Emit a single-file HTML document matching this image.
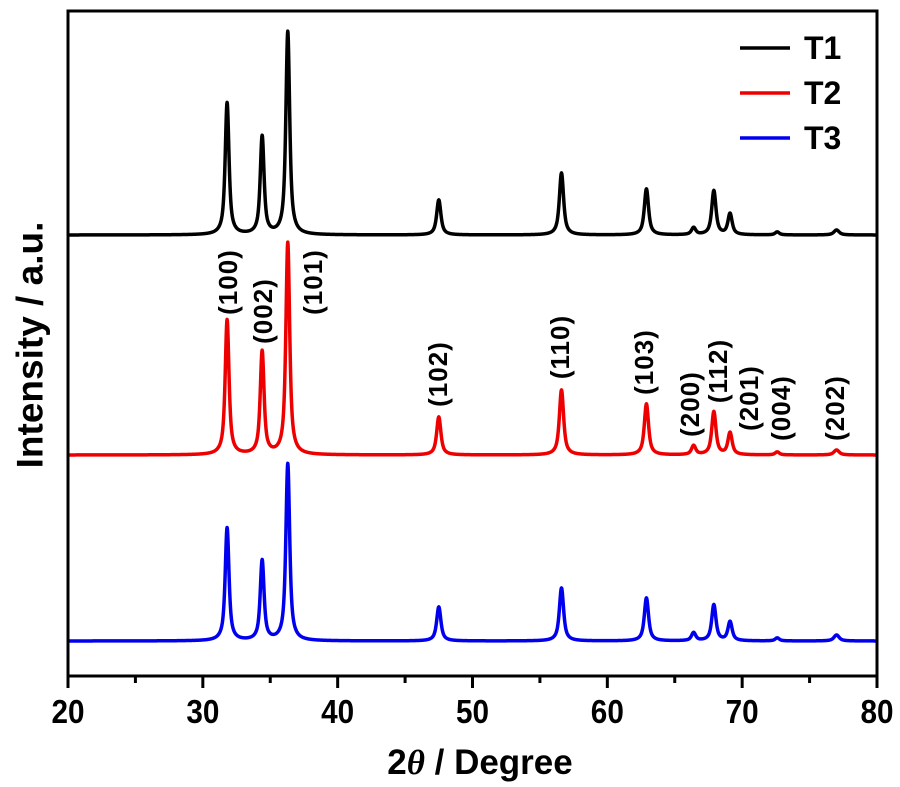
<!DOCTYPE html>
<html><head><meta charset="utf-8"><style>
html,body{margin:0;padding:0;background:#fff;}
svg{display:block;font-family:"Liberation Sans",Arial,sans-serif;font-weight:bold;}
</style></head><body>
<svg id="chart" width="900" height="787" viewBox="0 0 900 787">
<g id="plot"></g>
</svg>
<script>
const categories = ["T1","T2","T3"];
const peakPositions = [31.8,34.4,36.3,47.5,56.6,62.9,66.4,67.9,69.1,72.6,77.0];
const peakLabels = ["(100)","(002)","(101)","(102)","(110)","(103)","(200)","(112)","(201)","(004)","(202)"];
const t1Heights = [132,98,203,35,62,46,7,44,21,3,5];
const t2Heights = [135,103,212,38,65,51,9,43,22,3,5];
const t3Heights = [113,80,177,34,53,43,8,36,19,3,6];
const seriesOffsets = [441,221,35];
const seriesColors = ["#000000","#ee0000","#0000ee"];
const xTicks = [20,30,40,50,60,70,80];
const xMinorTicks = [25,35,45,55,65,75];

const X0=68,X1=877,Y0=676,Y1=11;
const xScale = v => X0 + (v-20)/(80-20)*(X1-X0);
const yScale = v => Y0 - v*(Y0-Y1)/665;
const NS="http://www.w3.org/2000/svg";
const svg=document.getElementById('chart');
const plot=document.getElementById('plot');
function mk(tag,attrs,parent){const e=document.createElementNS(NS,tag);for(const k in attrs)e.setAttribute(k,attrs[k]);(parent||svg).appendChild(e);return e;}

const allHeights=[t1Heights,t2Heights,t3Heights];
const widths=[0.18,0.18,0.18,0.2,0.2,0.2,0.2,0.2,0.2,0.2,0.25];
allHeights.forEach((hs,si)=>{
  let d="";
  for(let x=20;x<=80.0001;x+=0.02){
    let v=seriesOffsets[si];
    peakPositions.forEach((p,i)=>{const w=widths[i];const dx=(x-p)/w;v+=hs[i]*(0.75/(1+dx*dx)+0.25*Math.exp(-dx*dx));});
    d+=(d?"L":"M")+xScale(x).toFixed(2)+","+yScale(v).toFixed(2);
  }
  const path=mk('path',{d:d,fill:"none",stroke:seriesColors[si],"stroke-width":3.5,"stroke-linejoin":"round"},plot);
  
  
});

const frame=mk('rect',{x:X0,y:Y1,width:X1-X0,height:Y0-Y1,fill:"none",stroke:"#000","stroke-width":3});



xTicks.forEach(t=>{
  const l=mk('line',{x1:xScale(t),x2:xScale(t),y1:Y0,y2:Y0+12,stroke:"#000","stroke-width":3});
  
  
  const tx=mk('text',{x:xScale(t),y:Y0+47,"text-anchor":"middle","font-size":33,"transform":`translate(${xScale(t)} 0) scale(0.9 1) translate(${-xScale(t)} 0)`});
  tx.textContent=t;
  
  
});
xMinorTicks.forEach(t=>{
  const l=mk('line',{x1:xScale(t),x2:xScale(t),y1:Y0,y2:Y0+7,stroke:"#000","stroke-width":3});
  
  
});

const labelCx=[228,263,313,438,560,644,690,718,749,781,835];
const labelCy=[282,311,282,374,347,362,404,371,398,408,408];
peakLabels.forEach((lab,i)=>{
  const cx=labelCx[i], cy=labelCy[i];
  const tx=mk('text',{x:cx,y:cy,"font-size":26,"letter-spacing":1,transform:`rotate(-90 ${cx} ${cy})`,"text-anchor":"middle","dominant-baseline":"central"});
  tx.textContent=lab;
  
  
});

const ys=[48,93,138];
categories.forEach((c,i)=>{
  const l=mk('line',{x1:740,x2:790,y1:ys[i],y2:ys[i],stroke:seriesColors[i],"stroke-width":3.5});
  
  
  const t=mk('text',{x:804,y:ys[i]+11,"font-size":32});
  t.textContent=c;
  
  
});
const yt=mk('text',{x:30,y:345,"font-size":37,"text-anchor":"middle",transform:"rotate(-90 30 345) translate(30 345) scale(1 1) translate(-30 -345)","dominant-baseline":"central"});
yt.textContent="Intensity / a.u.";


const xt=mk('text',{x:480,y:774,"font-size":35,"text-anchor":"middle"});
xt.innerHTML='2<tspan font-family="Liberation Serif, serif" font-style="italic">θ</tspan> / Degree';


</script>
</body></html>
